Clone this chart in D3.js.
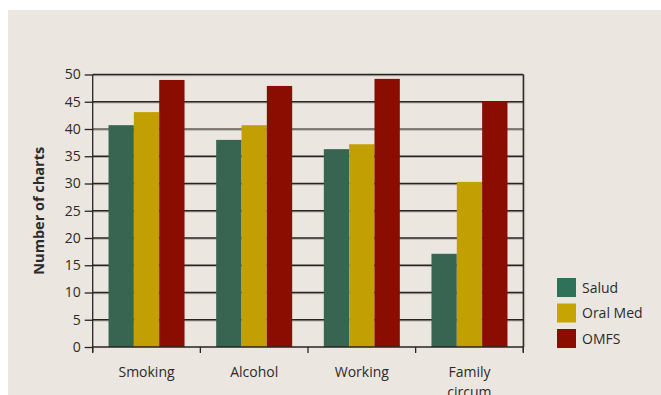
<!DOCTYPE html>
<html>
<head>
<meta charset="utf-8">
<script src="https://cdn.jsdelivr.net/npm/d3@7"></script>
<style>
  html, body { margin: 0; padding: 0; background: #ffffff; }
  svg { display: block; }
  text { font-family: "Open Sans", "Lato", sans-serif; fill: #2b2b2b; }
</style>
</head>
<body>
<svg id="chart" width="661" height="395"></svg>
<script>
// Chart data
const categories = ["Smoking", "Alcohol", "Working", "Family circum"];
const seriesNames = ["Salud", "Oral Med", "OMFS"];
const salud   = [40.7, 38.0, 36.3, 17.1];
const oralMed = [43.1, 40.7, 37.2, 30.3];
const omfs    = [49.0, 47.9, 49.2, 45.1];
const yTicks  = [0, 5, 10, 15, 20, 25, 30, 35, 40, 45, 50];

const seriesValues = [salud, oralMed, omfs];
const barColors = ["#386452", "#c2a004", "#8b0c00"];
const legendColors = ["#2f7259", "#c6a404", "#8b0c00"];

const svg = d3.select("#chart");
const W = 661, H = 395;

// panel background
svg.append("rect").attr("x", 8).attr("y", 10).attr("width", W - 8).attr("height", H - 10)
  .attr("fill", "#ebe6e0");

const plot = { left: 92.7, right: 523.3, top: 74.5, bottom: 347 };

const x0 = d3.scaleBand().domain(categories).range([plot.left, plot.right]).paddingInner(0).paddingOuter(0);
const x1 = d3.scaleBand().domain(seriesNames).range([0, 76]);
const y = d3.scaleLinear().domain([0, 50]).range([plot.bottom, plot.top]);

// gridlines with a soft shadow beneath
const grid = svg.append("g");
yTicks.filter(t => t > 0).forEach(t => {
  grid.append("line").attr("x1", plot.left).attr("x2", plot.right + 1.5)
    .attr("y1", y(t) + 1.2).attr("y2", y(t) + 1.2)
    .attr("stroke", "#b8b2ac").attr("stroke-width", 1.2);
  grid.append("line").attr("x1", plot.left).attr("x2", plot.right)
    .attr("y1", y(t)).attr("y2", y(t))
    .attr("stroke", t === 40 ? "#5e5b58" : "#262424").attr("stroke-width", 1.3);
});
// right border
svg.append("line").attr("x1", plot.right + 1.2).attr("x2", plot.right + 1.2)
  .attr("y1", plot.top).attr("y2", plot.bottom).attr("stroke", "#b8b2ac").attr("stroke-width", 1.2);
svg.append("line").attr("x1", plot.right).attr("x2", plot.right)
  .attr("y1", plot.top).attr("y2", plot.bottom + 5).attr("stroke", "#262424").attr("stroke-width", 1.3);

// bars
const groups = svg.append("g").selectAll("g").data(categories).join("g")
  .attr("transform", c => `translate(${x0(c) + (x0.bandwidth() - 76) / 2},0)`);
groups.selectAll("rect")
  .data((c, i) => seriesNames.map((s, j) => ({ s, j, v: seriesValues[j][i] })))
  .join("rect")
  .attr("x", d => x1(d.s))
  .attr("width", x1.bandwidth())
  .attr("y", d => y(d.v))
  .attr("height", d => y(0) - y(d.v))
  .attr("fill", d => barColors[d.j]);

// y axis
const yAxis = d3.axisLeft(y).tickValues(yTicks).tickSize(8).tickPadding(4);
const yg = svg.append("g").attr("transform", `translate(${plot.left},0)`).call(yAxis);
yg.select(".domain").attr("stroke", "#262424").attr("stroke-width", 1.3)
  .attr("d", `M0,${plot.top}V${plot.bottom + 5}`);
yg.selectAll(".tick line").attr("stroke", "#262424").attr("stroke-width", 1.3);
yg.selectAll(".tick text").attr("font-size", 14).attr("fill", "#2b2b2b")
  .style("font-family", "'Open Sans', sans-serif");

// x axis: ticks at category boundaries
const xBase = svg.append("g");
xBase.append("line").attr("x1", plot.left).attr("x2", plot.right)
  .attr("y1", plot.bottom).attr("y2", plot.bottom)
  .attr("stroke", "#262424").attr("stroke-width", 1.5);
const boundaries = categories.map(c => x0(c)).concat([plot.right]);
xBase.selectAll("line.b").data(boundaries).join("line").attr("class", "b")
  .attr("x1", d => d).attr("x2", d => d)
  .attr("y1", plot.bottom).attr("y2", plot.bottom + 6)
  .attr("stroke", "#262424").attr("stroke-width", 1.3);

// category labels (wrapped)
const labelWords = { "Family circum": ["Family", "circum"] };
categories.forEach(c => {
  const lines = labelWords[c] || [c];
  const t = svg.append("text").attr("text-anchor", "middle")
    .attr("x", x0(c) + x0.bandwidth() / 2).attr("y", 377).attr("font-size", 14);
  lines.forEach((l, i) => t.append("tspan").attr("x", x0(c) + x0.bandwidth() / 2)
    .attr("dy", i === 0 ? 0 : 20).text(l));
});

// y-axis title
svg.append("text").attr("transform", `translate(44,${(plot.top + plot.bottom) / 2}) rotate(-90)`)
  .attr("text-anchor", "middle").attr("font-size", 14.5).attr("font-weight", "bold")
  .text("Number of charts");

// legend
const legend = svg.append("g").attr("transform", "translate(557,278)");
seriesNames.forEach((s, i) => {
  const g = legend.append("g").attr("transform", `translate(0,${i * 25.5})`);
  g.append("rect").attr("width", 19).attr("height", 19).attr("fill", legendColors[i]);
  g.append("text").attr("x", 25).attr("y", 14.5).attr("font-size", 14).text(s);
});
</script>
</body>
</html>
